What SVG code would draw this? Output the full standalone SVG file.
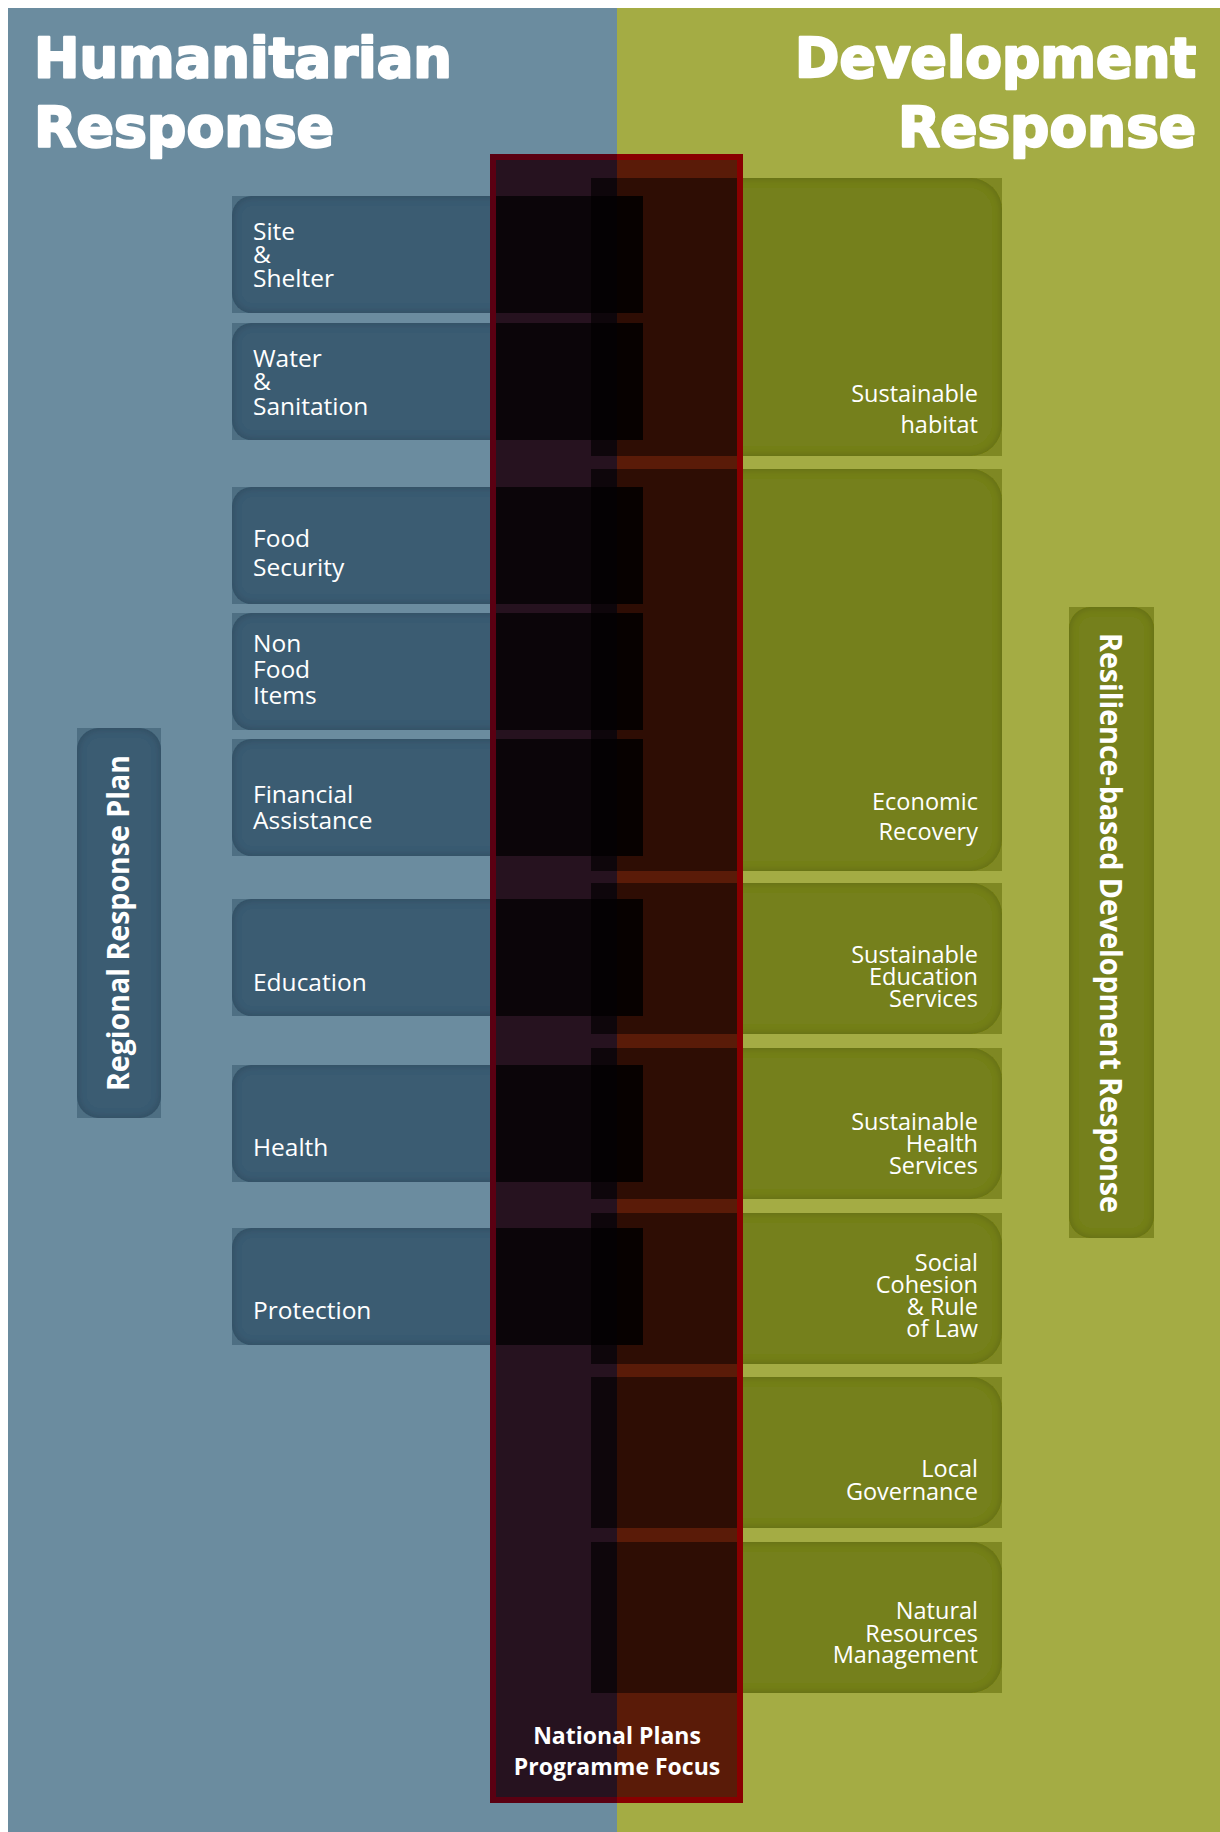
<svg xmlns="http://www.w3.org/2000/svg" width="1220" height="1832" viewBox="0 0 1220 1832">
<defs>
<style>
.bg-h{fill:#6B8C9F}
.bg-d{fill:#A4AC44}
.title{font-family:"DejaVu Sans","Liberation Sans",sans-serif;font-weight:bold;font-size:56px;fill:#ffffff;stroke:#ffffff;stroke-width:2.4px;stroke-linejoin:round}
.hsq{fill:#3B5B72;fill-opacity:0.6}
.hbox{fill:#3B5B72;filter:url(#inset)}
.dsq{fill:#75801B;fill-opacity:0.8}
.dbox{fill:#75801B;filter:url(#inset)}
.lbl{font-family:"Open Sans","Noto Sans","Liberation Sans",sans-serif;fill:#ffffff}
.hl{font-size:24.5px}
.dl{font-size:23.5px;text-anchor:end}
.vl{font-family:"Open Sans","Noto Sans","Liberation Sans",sans-serif;font-weight:bold;font-size:31px;fill:#ffffff}
.fl{font-family:"Open Sans","Noto Sans","Liberation Sans",sans-serif;font-weight:bold;font-size:23px;fill:#ffffff;text-anchor:middle}
</style>
<filter id="inset" x="-10%" y="-10%" width="120%" height="120%">
<feFlood flood-color="#000000" flood-opacity="0.38" result="f"/>
<feComposite in="f" in2="SourceAlpha" operator="out" result="o"/>
<feGaussianBlur in="o" stdDeviation="4" result="b"/>
<feComposite in="b" in2="SourceAlpha" operator="in" result="s"/>
<feMerge><feMergeNode in="SourceGraphic"/><feMergeNode in="s"/></feMerge>
</filter>
<clipPath id="clipL"><rect x="490" y="154" width="127" height="1649"/></clipPath>
<clipPath id="clipR"><rect x="617" y="154" width="126" height="1649"/></clipPath>
</defs>

<g id="background">
<rect class="bg-h" x="8" y="8" width="609" height="1824"/>
<rect class="bg-d" x="617" y="8" width="603" height="1824"/>
</g>

<g id="title-humanitarian">
<text class="title" x="34" y="77" textLength="418" lengthAdjust="spacingAndGlyphs">Humanitarian</text>
<text class="title" x="34" y="146" textLength="300" lengthAdjust="spacingAndGlyphs">Response</text>
</g>
<g id="title-development">
<text class="title" x="795" y="77" textLength="401" lengthAdjust="spacingAndGlyphs">Development</text>
<text class="title" x="898" y="146" textLength="298" lengthAdjust="spacingAndGlyphs">Response</text>
</g>

<g id="n-regional-response-plan">
<rect class="hsq" x="77" y="728" width="84" height="390"/>
<rect class="hbox" x="77" y="728" width="84" height="390" rx="22"/>
<text class="vl" transform="translate(129,923) rotate(-90)" x="-168" y="0" textLength="336" lengthAdjust="spacingAndGlyphs">Regional Response Plan</text>
</g>

<g id="n-resilience">
<rect class="dsq" x="1069" y="607" width="85" height="631"/>
<rect class="dbox" x="1069" y="607" width="85" height="631" rx="22"/>
<text class="vl" transform="translate(1100,923) rotate(90)" x="-290" y="0" textLength="580" lengthAdjust="spacingAndGlyphs">Resilience-based Development Response</text>
</g>

<g id="n-site-shelter">
<rect class="hsq" x="232" y="196" width="411" height="117"/>
<rect class="hbox" x="232" y="196" width="411" height="117" rx="20"/>
<text class="lbl hl"><tspan x="253" y="240">Site</tspan><tspan x="253" y="263">&amp;</tspan><tspan x="253" y="287">Shelter</tspan></text>
</g>
<g id="n-water-sanitation">
<rect class="hsq" x="232" y="323" width="411" height="117"/>
<rect class="hbox" x="232" y="323" width="411" height="117" rx="20"/>
<text class="lbl hl"><tspan x="253" y="367">Water</tspan><tspan x="253" y="390">&amp;</tspan><tspan x="253" y="415">Sanitation</tspan></text>
</g>
<g id="n-food-security">
<rect class="hsq" x="232" y="487" width="411" height="117"/>
<rect class="hbox" x="232" y="487" width="411" height="117" rx="20"/>
<text class="lbl hl"><tspan x="253" y="547">Food</tspan><tspan x="253" y="576">Security</tspan></text>
</g>
<g id="n-non-food-items">
<rect class="hsq" x="232" y="613" width="411" height="117"/>
<rect class="hbox" x="232" y="613" width="411" height="117" rx="20"/>
<text class="lbl hl"><tspan x="253" y="652">Non</tspan><tspan x="253" y="678">Food</tspan><tspan x="253" y="704">Items</tspan></text>
</g>
<g id="n-financial-assistance">
<rect class="hsq" x="232" y="739" width="411" height="117"/>
<rect class="hbox" x="232" y="739" width="411" height="117" rx="20"/>
<text class="lbl hl"><tspan x="253" y="803">Financial</tspan><tspan x="253" y="829">Assistance</tspan></text>
</g>
<g id="n-education">
<rect class="hsq" x="232" y="899" width="411" height="117"/>
<rect class="hbox" x="232" y="899" width="411" height="117" rx="20"/>
<text class="lbl hl" x="253" y="991">Education</text>
</g>
<g id="n-health">
<rect class="hsq" x="232" y="1065" width="411" height="117"/>
<rect class="hbox" x="232" y="1065" width="411" height="117" rx="20"/>
<text class="lbl hl" x="253" y="1156">Health</text>
</g>
<g id="n-protection">
<rect class="hsq" x="232" y="1228" width="411" height="117"/>
<rect class="hbox" x="232" y="1228" width="411" height="117" rx="20"/>
<text class="lbl hl" x="253" y="1319">Protection</text>
</g>

<g id="n-sustainable-habitat">
<rect class="dsq" x="591" y="178" width="411" height="278"/>
<rect class="dbox" x="591" y="178" width="411" height="278" rx="32"/>
<text class="lbl dl"><tspan x="978" y="402">Sustainable</tspan><tspan x="978" y="433">habitat</tspan></text>
</g>
<g id="n-economic-recovery">
<rect class="dsq" x="591" y="469" width="411" height="402"/>
<rect class="dbox" x="591" y="469" width="411" height="402" rx="32"/>
<text class="lbl dl"><tspan x="978" y="810">Economic</tspan><tspan x="978" y="840">Recovery</tspan></text>
</g>
<g id="n-sustainable-education">
<rect class="dsq" x="591" y="883" width="411" height="151"/>
<rect class="dbox" x="591" y="883" width="411" height="151" rx="32"/>
<text class="lbl dl"><tspan x="978" y="963">Sustainable</tspan><tspan x="978" y="985">Education</tspan><tspan x="978" y="1007">Services</tspan></text>
</g>
<g id="n-sustainable-health">
<rect class="dsq" x="591" y="1048" width="411" height="151"/>
<rect class="dbox" x="591" y="1048" width="411" height="151" rx="32"/>
<text class="lbl dl"><tspan x="978" y="1130">Sustainable</tspan><tspan x="978" y="1152">Health</tspan><tspan x="978" y="1174">Services</tspan></text>
</g>
<g id="n-social-cohesion">
<rect class="dsq" x="591" y="1213" width="411" height="151"/>
<rect class="dbox" x="591" y="1213" width="411" height="151" rx="32"/>
<text class="lbl dl"><tspan x="978" y="1271">Social</tspan><tspan x="978" y="1293">Cohesion</tspan><tspan x="978" y="1315">&amp; Rule</tspan><tspan x="978" y="1337">of Law</tspan></text>
</g>
<g id="n-local-governance">
<rect class="dsq" x="591" y="1377" width="411" height="151"/>
<rect class="dbox" x="591" y="1377" width="411" height="151" rx="32"/>
<text class="lbl dl"><tspan x="978" y="1477">Local</tspan><tspan x="978" y="1500">Governance</tspan></text>
</g>
<g id="n-natural-resources">
<rect class="dsq" x="591" y="1542" width="411" height="151"/>
<rect class="dbox" x="591" y="1542" width="411" height="151" rx="32"/>
<text class="lbl dl"><tspan x="978" y="1619">Natural</tspan><tspan x="978" y="1642">Resources</tspan><tspan x="978" y="1663">Management</tspan></text>
</g>

<g id="n-national-plans">
<g clip-path="url(#clipL)">
<rect x="490" y="154" width="127" height="1649" fill="#26121F"/>
<g fill="#000000" fill-opacity="0.62">
<rect x="591" y="178" width="411" height="278"/>
<rect x="591" y="469" width="411" height="402"/>
<rect x="591" y="883" width="411" height="151"/>
<rect x="591" y="1048" width="411" height="151"/>
<rect x="591" y="1213" width="411" height="151"/>
<rect x="591" y="1377" width="411" height="151"/>
<rect x="591" y="1542" width="411" height="151"/>
</g>
<g fill="#000000" fill-opacity="0.7">
<rect x="232" y="196" width="411" height="117"/>
<rect x="232" y="323" width="411" height="117"/>
<rect x="232" y="487" width="411" height="117"/>
<rect x="232" y="613" width="411" height="117"/>
<rect x="232" y="739" width="411" height="117"/>
<rect x="232" y="899" width="411" height="117"/>
<rect x="232" y="1065" width="411" height="117"/>
<rect x="232" y="1228" width="411" height="117"/>
</g>
<rect x="493" y="157" width="247" height="1643" fill="none" stroke="#5A0012" stroke-width="6"/>
</g>
<g clip-path="url(#clipR)">
<rect x="617" y="154" width="126" height="1649" fill="#5A1B08"/>
<g fill="#000000" fill-opacity="0.49">
<rect x="591" y="178" width="411" height="278"/>
<rect x="591" y="469" width="411" height="402"/>
<rect x="591" y="883" width="411" height="151"/>
<rect x="591" y="1048" width="411" height="151"/>
<rect x="591" y="1213" width="411" height="151"/>
<rect x="591" y="1377" width="411" height="151"/>
<rect x="591" y="1542" width="411" height="151"/>
</g>
<g fill="#000000" fill-opacity="0.85">
<rect x="232" y="196" width="411" height="117"/>
<rect x="232" y="323" width="411" height="117"/>
<rect x="232" y="487" width="411" height="117"/>
<rect x="232" y="613" width="411" height="117"/>
<rect x="232" y="739" width="411" height="117"/>
<rect x="232" y="899" width="411" height="117"/>
<rect x="232" y="1065" width="411" height="117"/>
<rect x="232" y="1228" width="411" height="117"/>
</g>
<rect x="493" y="157" width="247" height="1643" fill="none" stroke="#880000" stroke-width="6"/>
</g>
<text class="fl"><tspan x="617" y="1744">National Plans</tspan><tspan x="617" y="1775">Programme Focus</tspan></text>
</g>
</svg>
